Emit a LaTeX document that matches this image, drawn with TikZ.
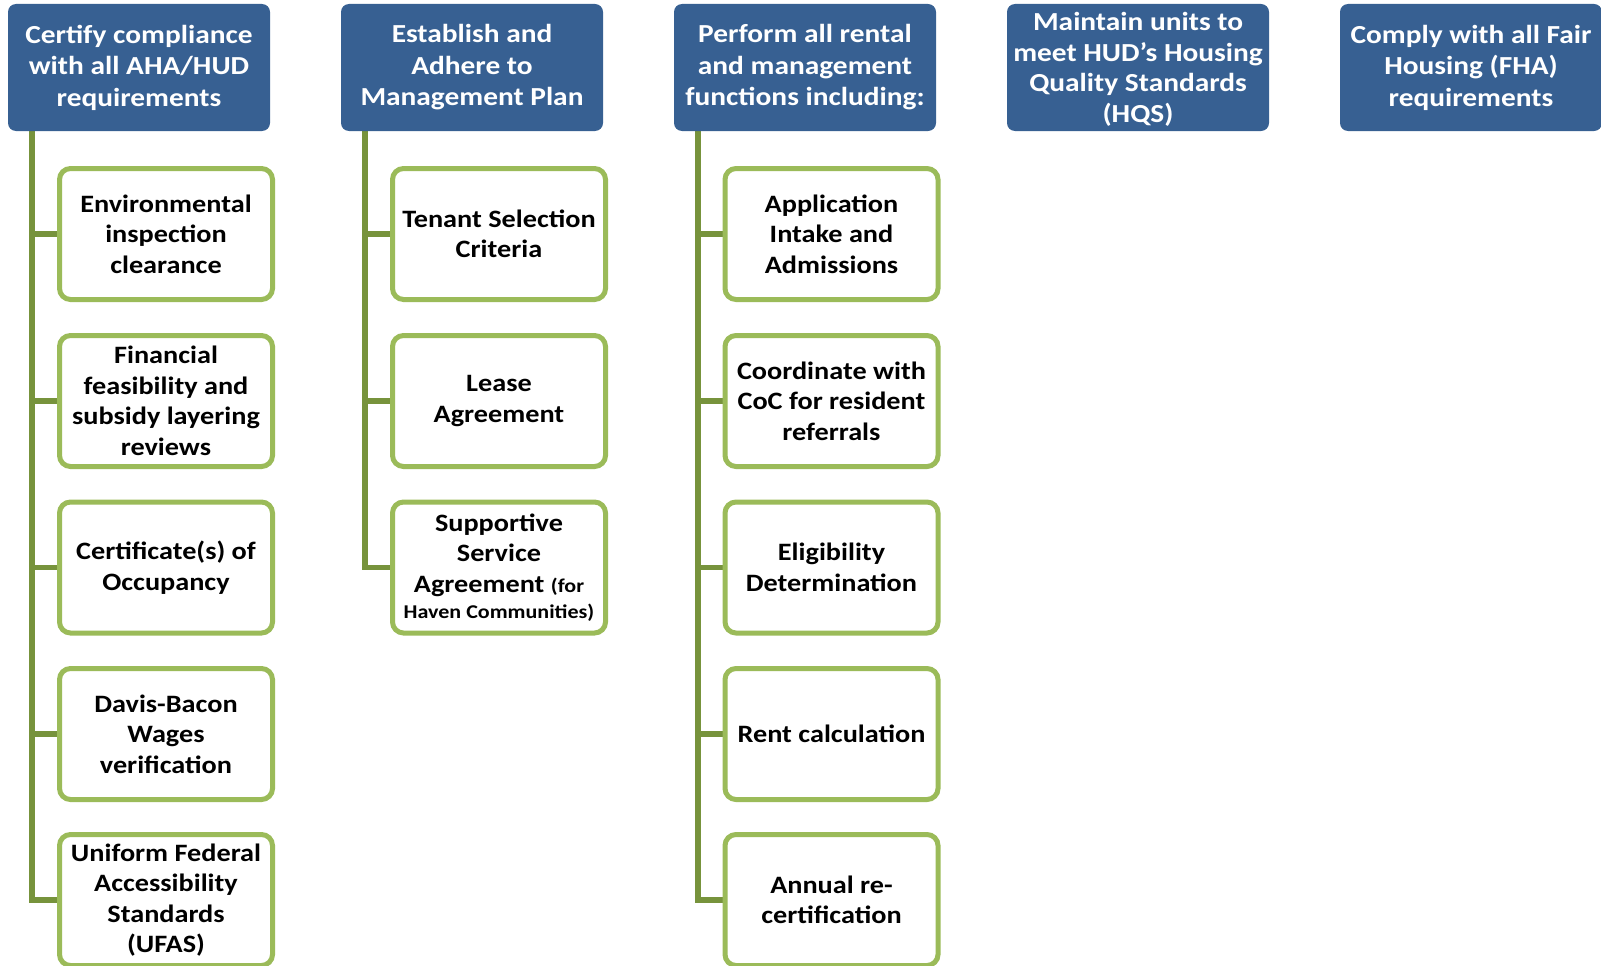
\documentclass[tikz,border=0pt]{standalone}
\usepackage{fontspec}
\setmainfont{Carlito}[FakeStretch=1.13]
\usetikzlibrary{backgrounds}
\definecolor{hdrblue}{RGB}{55,96,146}
\definecolor{boxgreen}{RGB}{155,187,89}
\definecolor{trunkgreen}{RGB}{119,147,60}
\begin{document}
\begin{tikzpicture}[x=1pt,y=-1pt,
  hdr/.style={fill=hdrblue, rounded corners=8pt, minimum width=262pt, minimum height=127pt,
    inner sep=0pt, align=center, text=white, font=\bfseries\fontsize{26}{31.5}\selectfont},
  item/.style={draw=boxgreen, line width=5pt, fill=white, rounded corners=11pt,
    minimum width=213pt, minimum height=131pt, inner sep=0pt, align=center,
    font=\bfseries\fontsize{25}{30.5}\selectfont},
  conn/.style={draw=trunkgreen, line width=5.5pt}]
\useasboundingbox (0,0) rectangle (1601,966);

% column heads
\node[hdr] (h1) at (139,67.5) {Certify compliance\\with all AHA/HUD\\requirements};
\node[hdr] (h2) at (472,67.5) {Establish and\\Adhere to\\Management Plan};
\node[hdr] (h3) at (805,67.5) {Perform all rental\\and management\\functions including:};
\node[hdr, font=\bfseries\fontsize{26}{30.5}\selectfont] (h4) at (1138,67.5)
  {\rule{0pt}{22pt}Maintain units to\\meet HUD’s Housing\\Quality Standards\\(HQS)};
\node[hdr] (h5) at (1471,67.5) {Comply with all Fair\\Housing (FHA)\\requirements};

% first column
\node[item] (a1) at (166,234) {Environmental\\inspection\\clearance};
\node[item] (a2) at (166,401) {Financial\\feasibility and\\subsidy layering\\reviews};
\node[item] (a3) at (166,567.5) {Certificate(s) of\\Occupancy};
\node[item] (a4) at (166,734) {Davis-Bacon\\Wages\\verification};
\node[item] (a5) at (166,900) {Uniform Federal\\Accessibility\\Standards\\(UFAS)};

% second column
\node[item] (b1) at (499,234) {Tenant Selection\\Criteria};
\node[item] (b2) at (499,401) {Lease\\Agreement};
\node[item] (b3) at (499,567.5) {Supportive\\Service\\Agreement {\fontsize{19.5}{22}\selectfont(for}\\[-4pt]
  {\fontsize{19.5}{22}\selectfont Haven Communities)}};

% third column
\node[item] (c1) at (831.5,234) {Application\\Intake and\\Admissions};
\node[item] (c2) at (831.5,401) {Coordinate with\\CoC for resident\\referrals};
\node[item] (c3) at (831.5,567.5) {Eligibility\\Determination};
\node[item] (c4) at (831.5,734) {Rent calculation};
\node[item] (c5) at (831.5,900) {Annual re-\\certification};

% trunks and branches
\begin{scope}[on background layer]
  \foreach \k in {a1,a2,a3,a4,a5}
    \draw[conn] ([xshift=24pt]h1.south west) |- (\k.west);
  \foreach \k in {b1,b2,b3}
    \draw[conn] ([xshift=24pt]h2.south west) |- (\k.west);
  \foreach \k in {c1,c2,c3,c4,c5}
    \draw[conn] ([xshift=24pt]h3.south west) |- (\k.west);
\end{scope}
\end{tikzpicture}
\end{document}
